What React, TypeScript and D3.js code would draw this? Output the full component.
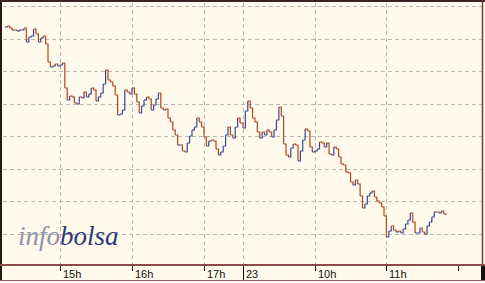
import React from "react";
import * as d3 from "d3";

// Intraday prices sampled every 2 minutes
const day1Start = new Date(2010, 1, 22, 14, 14);
const day1Prices = [
  14.73, 14.74, 14.72, 14.70, 14.70, 14.69, 14.70, 14.70, 14.72, 14.58,
  14.63, 14.64, 14.71, 14.66, 14.58, 14.62, 14.64, 14.56, 14.38, 14.33,
  14.34, 14.36, 14.34, 14.35, 14.37, 14.12, 14.00, 14.04, 14.03, 13.97,
  13.96, 14.03, 14.02, 14.08, 14.03, 14.06, 14.12, 14.10, 13.99, 14.03,
  14.07, 14.16, 14.30, 14.20, 14.18, 14.14, 14.05, 13.85, 13.86, 13.90,
  14.10, 14.08, 14.06, 14.12, 14.06, 13.98, 13.87, 13.94, 14.00, 14.03,
  14.01, 13.90, 13.95, 14.01, 14.07, 13.92, 13.90, 13.91, 13.82, 13.78,
  13.70, 13.65, 13.55, 13.55, 13.49, 13.48, 13.57, 13.64, 13.70, 13.73,
  13.82, 13.78, 13.73, 13.63, 13.54, 13.59, 13.60, 13.59, 13.51, 13.45,
  13.48, 13.54, 13.65, 13.73, 13.65, 13.62, 13.73, 13.82, 13.77,
];
const day2Start = new Date(2010, 1, 23, 9, 0);
const day2Prices = [
  13.72, 13.89, 13.99, 13.92, 13.82, 13.78, 13.68, 13.62, 13.68, 13.65,
  13.70, 13.68, 13.63, 13.70, 13.80, 13.93, 13.84, 13.56, 13.45, 13.43,
  13.52, 13.56, 13.55, 13.39, 13.49, 13.60, 13.71, 13.69, 13.53, 13.48,
  13.49, 13.51, 13.58, 13.57, 13.53, 13.57, 13.46, 13.45, 13.53, 13.51,
  13.43, 13.36, 13.35, 13.28, 13.27, 13.18, 13.15, 13.20, 13.16, 13.04,
  12.92, 12.96, 13.04, 13.07, 13.09, 13.03, 12.99, 12.97, 12.93, 12.84,
  12.63, 12.69, 12.74, 12.70, 12.68, 12.69, 12.67, 12.71, 12.76, 12.80,
  12.87, 12.78, 12.67, 12.67, 12.72, 12.68, 12.66, 12.74, 12.78, 12.83,
  12.88, 12.88, 12.87, 12.89, 12.86, 12.85,
];

const xTickTimes = [
  new Date(2010, 1, 22, 15, 0),
  new Date(2010, 1, 22, 16, 0),
  new Date(2010, 1, 22, 17, 0),
  new Date(2010, 1, 23, 9, 0),
  new Date(2010, 1, 23, 10, 0),
  new Date(2010, 1, 23, 11, 0),
  new Date(2010, 1, 23, 12, 0),
];
const xTickLabels = ["15h", "16h", "17h", "23", "10h", "11h", ""];
const yGridValues = [14.94, 14.614, 14.289, 13.963, 13.637, 13.311, 12.986, 12.66];

const W = 485;
const H = 283;
const BG = "#fffaec";
const UP = "#3a4898";
const DOWN = "#b4441e";

export default function App() {
  const x = d3
    .scaleTime()
    .domain([
      new Date(2010, 1, 22, 14, 12),
      new Date(2010, 1, 22, 17, 30),
      new Date(2010, 1, 23, 9, 0),
      new Date(2010, 1, 23, 12, 22),
    ])
    .range([2.4, 240, 243, 484.4]);
  const y = d3.scaleLinear().domain([12.66, 14.94]).range([234, 6]);

  const pts: { t: Date; p: number }[] = [];
  day1Prices.forEach((p, i) => pts.push({ t: d3.timeMinute.offset(day1Start, i * 2), p }));
  day2Prices.forEach((p, i) => pts.push({ t: d3.timeMinute.offset(day2Start, i * 2), p }));

  const segs = [];
  for (let i = 1; i < pts.length; i++) {
    const a = pts[i - 1];
    const b = pts[i];
    const x0 = x(a.t);
    const x1 = x(b.t);
    const y0 = y(a.p);
    const y1 = y(b.p);
    const col = b.p >= a.p ? UP : DOWN;
    segs.push(
      <path
        key={i}
        d={`M${x0},${y0}H${x1}V${y1}`}
        fill="none"
        stroke={col}
        strokeWidth={1.2}
      />
    );
  }

  const plotLeft = 3;
  const plotRight = 482;
  const plotTop = 3;
  const axisY = 265;

  return (
    <svg
      width={W}
      height={H}
      style={{ position: "absolute", left: 0, top: 0 }}
      fontFamily="'Liberation Sans', Arial, sans-serif"
    >
      <rect x={0} y={0} width={W} height={H} fill="#ffffff" />
      <rect x={0} y={0} width={W} height={281} fill={BG} />
      {/* horizontal grid */}
      {yGridValues.map((v, i) => (
        <line
          key={"h" + i}
          x1={plotLeft}
          x2={plotRight}
          y1={Math.round(y(v)) + 0.5}
          y2={Math.round(y(v)) + 0.5}
          stroke="#b9b7ae"
          strokeDasharray="4,3"
        />
      ))}
      {/* vertical grid */}
      {xTickTimes.slice(0, 6).map((t, i) => (
        <line
          key={"v" + i}
          x1={Math.round(x(t)) + 0.5}
          x2={Math.round(x(t)) + 0.5}
          y1={plotTop}
          y2={axisY - 1}
          stroke="#b9b7ae"
          strokeDasharray="4,3"
        />
      ))}
      {/* watermark */}
      <text
        x={18}
        y={245}
        fontFamily="'Liberation Serif', 'Times New Roman', serif"
        fontStyle="italic"
        fontSize={27}
      >
        <tspan fill="#8e93ab">info</tspan>
        <tspan fill="#2e3b7a">bolsa</tspan>
      </text>
      {/* series */}
      <g>{segs}</g>
      {/* frame */}
      <line x1={1} x2={1} y1={0} y2={281} stroke="#2a1818" strokeWidth={2} />
      <line x1={0} x2={W} y1={1} y2={1} stroke="#3a2222" strokeWidth={2} />
      <line x1={482.5} x2={482.5} y1={0} y2={265} stroke="#7a3a3a" strokeWidth={1.5} />
      <line x1={0} x2={W} y1={265} y2={265} stroke="#8c4a4a" strokeWidth={2} />
      <line x1={0} x2={W} y1={280.5} y2={280.5} stroke="#9a5a5a" strokeWidth={1.2} />
      <rect x={481} y={266} width={4} height={14} fill="#1a1010" />
      {/* ticks and labels */}
      {xTickTimes.map((t, i) => {
        const xp = Math.round(x(t)) + 0.5;
        const isDay = xTickLabels[i] === "23";
        return (
          <g key={"t" + i}>
            <line
              x1={xp}
              x2={xp}
              y1={266}
              y2={isDay ? 280 : 271}
              stroke="#000"
              strokeWidth={1}
            />
            <text x={xp + 2.5} y={278} fontSize={11} fill="#111">
              {xTickLabels[i]}
            </text>
          </g>
        );
      })}
    </svg>
  );
}
